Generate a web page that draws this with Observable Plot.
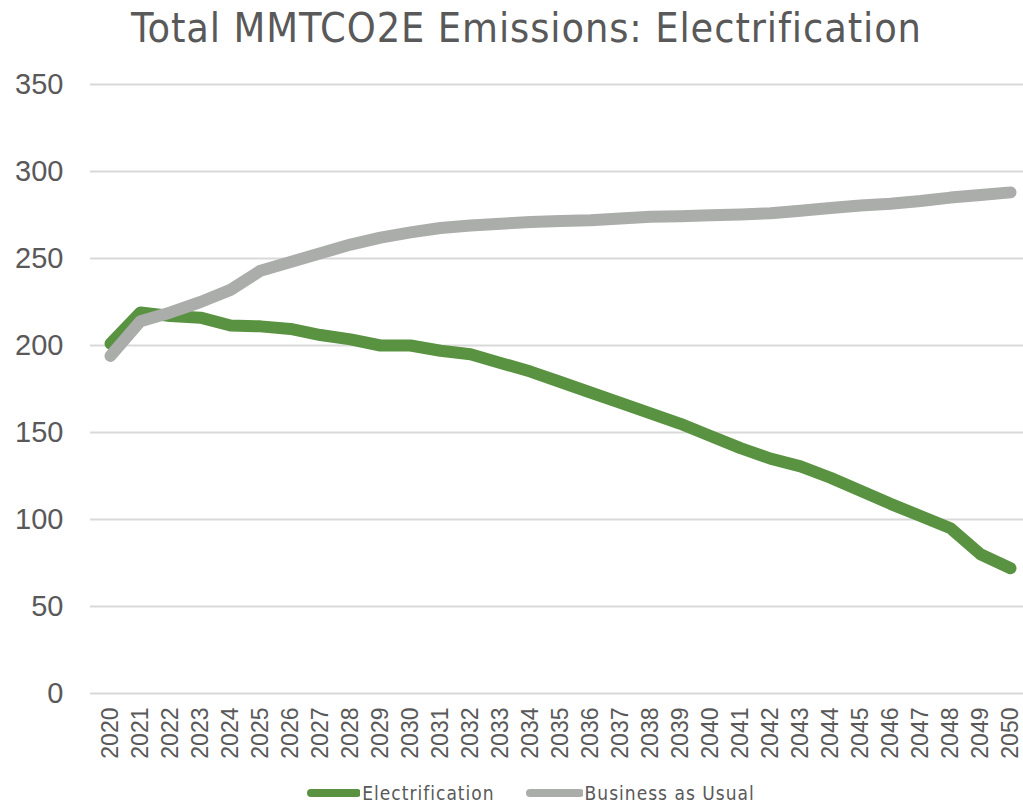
<!DOCTYPE html>
<html>
<head>
<meta charset="utf-8">
<script src="https://cdn.jsdelivr.net/npm/d3@7"></script>
<script src="https://cdn.jsdelivr.net/npm/@observablehq/plot@0.6"></script>
<style>
  html, body { margin: 0; padding: 0; background: #fff; }
  #wrap { width: 1023px; height: 806px; position: relative; overflow: hidden; }
  #title { height: 60px; line-height: 56px; text-align: center; font-family: "Liberation Sans Narrow", "DejaVu Sans Condensed", sans-serif; font-size: 41px; letter-spacing: 0.9px; color: #595959; padding-left: 30px; }
  #legend { height: 26px; display: flex; justify-content: center; align-items: center; font-family: "Liberation Sans Narrow", "DejaVu Sans Condensed", sans-serif; font-size: 19px; letter-spacing: 1px; color: #595959; margin-left: 38px; }
  #legend .item { display: flex; align-items: center; margin: 0 15px; }
  #legend svg { margin-right: 2px; }
</style>
</head>
<body>
<div id="wrap">
  <div id="title">Total MMTCO2E Emissions: Electrification</div>
  <div id="chart"></div>
  <div id="legend"></div>
</div>
<script>
const years = ["2020","2021","2022","2023","2024","2025","2026","2027","2028","2029","2030",
  "2031","2032","2033","2034","2035","2036","2037","2038","2039","2040",
  "2041","2042","2043","2044","2045","2046","2047","2048","2049","2050"];
const electrification = [201, 219, 217, 216, 211.5, 211, 209.5, 206, 203.5, 200, 200,
  197, 195, 190, 185, 179, 173, 167, 161, 155, 148,
  141, 135, 130.5, 124, 116.5, 109, 102, 95, 80, 72];
const businessAsUsual = [194, 214, 219, 225, 232, 243, 248, 253, 258, 262, 265,
  267.5, 269, 270, 271, 271.5, 272, 273, 274, 274.3, 274.8,
  275.3, 276, 277.5, 279, 280.5, 281.5, 283, 285, 286.5, 288];
const seriesNames = ["Electrification", "Business as Usual"];
const seriesColors = ["#599341", "#aaadaa"];
const yTicks = [0, 50, 100, 150, 200, 250, 300, 350];

const rows = [];
years.forEach((y, i) => rows.push({year: y, value: electrification[i], series: seriesNames[0]}));
years.forEach((y, i) => rows.push({year: y, value: businessAsUsual[i], series: seriesNames[1]}));

const chart = Plot.plot({
  width: 1023,
  height: 720,
  marginTop: 24,
  marginBottom: 87,
  marginLeft: 90,
  marginRight: 0,
  style: {fontFamily: "'Liberation Sans', Arial, sans-serif", color: "#595959", background: "#fff"},
  x: {type: "point", domain: years, range: [104, 1015], padding: 0},
  y: {domain: [0, 350]},
  color: {domain: seriesNames, range: seriesColors},
  marks: [
    Plot.ruleY(yTicks, {stroke: "#d9d9d9", strokeWidth: 2}),
    Plot.axisY(yTicks, {tickSize: 0, tickPadding: 27, fontSize: 29, fill: "#595959", label: null}),
    Plot.axisX(years, {tickSize: 0, tickPadding: 14, tickRotate: -90, fontSize: 23, fill: "#595959", label: null}),
    Plot.line(rows.filter(d => d.series === seriesNames[0]), {x: "year", y: "value", stroke: "series", strokeWidth: 12, strokeLinejoin: "round", strokeLinecap: "round"}),
    Plot.line(rows.filter(d => d.series === seriesNames[1]), {x: "year", y: "value", stroke: "series", strokeWidth: 12, strokeLinejoin: "round", strokeLinecap: "round"})
  ]
});
document.getElementById("chart").appendChild(chart);

const legend = document.getElementById("legend");
seriesNames.forEach((name, i) => {
  const item = document.createElement("div");
  item.className = "item";
  const w = i === 0 ? 54 : 58;
  item.innerHTML = `<svg width="${w}" height="12"><line x1="5" y1="6" x2="${w - 3}" y2="6" stroke="${seriesColors[i]}" stroke-width="8" stroke-linecap="round"/></svg><span>${name}</span>`;
  legend.appendChild(item);
});
</script>
</body>
</html>
